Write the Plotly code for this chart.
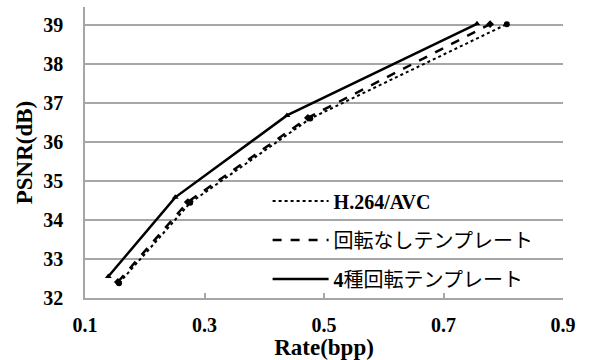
import plotly.graph_objects as go

series_names = ["<b>H.264/AVC</b>", "回転なしテンプレート", "<b>4</b>種回転テンプレート"]
rate_avc = [0.157, 0.276, 0.477, 0.806]
psnr_avc = [32.38, 34.44, 36.60, 39.02]
rate_norot = [0.155, 0.272, 0.473, 0.778]
psnr_norot = [32.41, 34.46, 36.62, 39.02]
rate_rot4 = [0.139, 0.251, 0.438, 0.756]
psnr_rot4 = [32.55, 34.58, 36.68, 39.03]
x_ticks = [0.1, 0.3, 0.5, 0.7, 0.9]
y_ticks = [32, 33, 34, 35, 36, 37, 38, 39]

FONT = "Liberation Serif, Times New Roman, Noto Sans CJK JP, serif"
GRID = "#a6a6a6"

styles = [
    dict(dash="dot", width=2, symbol="circle"),
    dict(dash="dash", width=2.5, symbol="diamond"),
    dict(dash="solid", width=2.5, symbol="triangle-up"),
]
data = [(rate_avc, psnr_avc), (rate_norot, psnr_norot), (rate_rot4, psnr_rot4)]

fig = go.Figure()
for name, (xs, ys), st in zip(series_names, data, styles):
    fig.add_trace(go.Scatter(
        x=xs, y=ys, mode="lines", name=name, legendgroup=name,
        line=dict(color="black", width=st["width"], dash=st["dash"]),
    ))
    fig.add_trace(go.Scatter(
        x=xs, y=ys, mode="markers", showlegend=False, legendgroup=name,
        marker=dict(color="black", size=6, symbol=st["symbol"]),
    ))

fig.update_layout(
    width=591, height=360,
    margin=dict(l=85, r=28, t=7, b=62),
    paper_bgcolor="white", plot_bgcolor="white",
    font=dict(family=FONT, color="black", size=20),
    legend=dict(
        x=0.382, y=0.40, xanchor="left", yanchor="top",
        bgcolor="rgba(0,0,0,0)", font=dict(family=FONT, size=20),
        tracegroupgap=10, itemwidth=56,
    ),
    xaxis=dict(
        range=[0.1, 0.9], tickvals=x_ticks, ticktext=[f"<b>{v:.1f}</b>" for v in x_ticks],
        showgrid=False, showline=True, linecolor=GRID, linewidth=1.5,
        ticks="inside", ticklen=5, tickcolor=GRID, tickwidth=1.5,
        tickfont=dict(size=20), ticklabelstandoff=8,
        title=dict(text="<b>Rate(bpp)</b>", font=dict(size=23), standoff=0),
        zeroline=False, automargin=False,
    ),
    yaxis=dict(
        range=[32, 39.46], tickvals=y_ticks, ticktext=[f"<b>{v}</b>" for v in y_ticks],
        showgrid=True, gridcolor=GRID, gridwidth=1.5,
        showline=True, linecolor=GRID, linewidth=1.5,
        ticks="", tickfont=dict(size=20), ticklabelstandoff=16,
        title=dict(text="<b>PSNR(dB)</b>", font=dict(size=23), standoff=4),
        zeroline=False, automargin=False,
    ),
)

fig.write_html("out.html", config={"displayModeBar": False},
               post_script="document.body.style.margin='0';")
